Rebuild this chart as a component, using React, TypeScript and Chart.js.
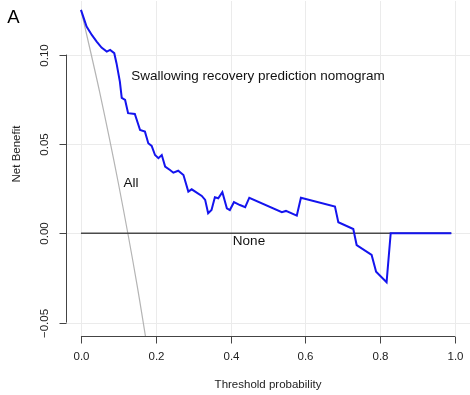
import React, { useEffect, useRef } from 'react';
import { Chart, registerables } from 'chart.js';

Chart.register(...registerables);

// Decision curve: nomogram
const thresholds = [
  0.0, 0.015, 0.029, 0.042, 0.055, 0.069, 0.078, 0.089, 0.095, 0.104,
  0.109, 0.118, 0.126, 0.144, 0.158, 0.171, 0.18, 0.189, 0.198, 0.207,
  0.216, 0.225, 0.238, 0.247, 0.26, 0.274, 0.287, 0.296, 0.323, 0.332,
  0.34, 0.349, 0.358, 0.367, 0.378, 0.39, 0.398, 0.409, 0.425, 0.439,
  0.45, 0.537, 0.548, 0.577, 0.588, 0.679, 0.688, 0.728, 0.737, 0.777,
  0.789, 0.817, 0.828, 0.99,
];
const nomogramNB = [
  0.125, 0.1157, 0.111, 0.1073, 0.1039, 0.1017, 0.1026, 0.1008, 0.0952, 0.0849,
  0.0758, 0.0746, 0.0672, 0.0668, 0.0578, 0.0569, 0.0504, 0.0489, 0.0438, 0.042,
  0.0438, 0.0373, 0.0354, 0.0339, 0.035, 0.0326, 0.0233, 0.0246, 0.0209, 0.0187,
  0.0112, 0.013, 0.0202, 0.0196, 0.023, 0.014, 0.013, 0.0174, 0.0158, 0.0146,
  0.0199, 0.0118, 0.0125, 0.0099, 0.0199, 0.0149, 0.0062, 0.0024, -0.0066, -0.0121,
  -0.0215, -0.0274, 0.0, 0.0,
];
// Treat all
const allThresholds = [0, 0.05, 0.1, 0.15, 0.2];
const allNB = [0.125, 0.079, 0.028, -0.029, -0.094];
// Treat none
const noneThresholds = [0, 0.99];
const noneNB = [0, 0];

const xTicks = [0, 0.2, 0.4, 0.6, 0.8, 1.0];
const xTickLabels = ['0.0', '0.2', '0.4', '0.6', '0.8', '1.0'];
const yTicks = [-0.05, 0, 0.05, 0.1];
const yTickLabels = ['\u22120.05', '0.00', '0.05', '0.10'];

const panelLabel = 'A';
const xTitle = 'Threshold probability';
const yTitle = 'Net Benefit';
const nomogramLabel = 'Swallowing recovery prediction nomogram';
const allLabel = 'All';
const noneLabel = 'None';

const FONT = "'Liberation Sans', Arial, Helvetica, sans-serif";

const toPoints = (xs: number[], ys: number[]) => xs.map((v, i) => ({ x: v, y: ys[i] }));

const decor = {
  id: 'decor',
  beforeDatasetsDraw(chart: any) {
    const { ctx, chartArea: a, scales } = chart;
    const x = scales.x;
    const y = scales.y;
    ctx.save();
    ctx.strokeStyle = '#ebebeb';
    ctx.lineWidth = 1;
    xTicks.forEach((v) => {
      const p = Math.round(x.getPixelForValue(v)) + 0.5;
      ctx.beginPath();
      ctx.moveTo(p, a.top);
      ctx.lineTo(p, a.bottom);
      ctx.stroke();
    });
    yTicks.forEach((v) => {
      const p = Math.round(y.getPixelForValue(v)) + 0.5;
      ctx.beginPath();
      ctx.moveTo(a.left, p);
      ctx.lineTo(a.right, p);
      ctx.stroke();
    });
    ctx.restore();
  },
  afterDraw(chart: any) {
    const { ctx, chartArea: a, scales } = chart;
    const x = scales.x;
    const y = scales.y;
    ctx.save();
    ctx.strokeStyle = '#444';
    ctx.lineWidth = 1;
    // x axis
    const yb = Math.round(a.bottom) + 0.5;
    const xs0 = x.getPixelForValue(xTicks[0]);
    const xs1 = x.getPixelForValue(xTicks[xTicks.length - 1]);
    ctx.beginPath();
    ctx.moveTo(xs0, yb);
    ctx.lineTo(xs1, yb);
    ctx.stroke();
    ctx.fillStyle = '#222';
    ctx.font = `11.5px ${FONT}`;
    ctx.textAlign = 'center';
    ctx.textBaseline = 'middle';
    xTicks.forEach((v, i) => {
      const p = Math.round(x.getPixelForValue(v)) + 0.5;
      ctx.beginPath();
      ctx.moveTo(p, yb);
      ctx.lineTo(p, yb + 7);
      ctx.stroke();
      ctx.fillText(xTickLabels[i], p, a.bottom + 21);
    });
    // y axis
    const xl = Math.round(a.left) + 0.5;
    const ys0 = y.getPixelForValue(yTicks[0]);
    const ys1 = y.getPixelForValue(yTicks[yTicks.length - 1]);
    ctx.beginPath();
    ctx.moveTo(xl, ys0);
    ctx.lineTo(xl, ys1);
    ctx.stroke();
    yTicks.forEach((v, i) => {
      const p = Math.round(y.getPixelForValue(v)) + 0.5;
      ctx.beginPath();
      ctx.moveTo(xl, p);
      ctx.lineTo(xl - 7, p);
      ctx.stroke();
      ctx.save();
      ctx.translate(a.left - 21, p);
      ctx.rotate(-Math.PI / 2);
      ctx.fillText(yTickLabels[i], 0, 0);
      ctx.restore();
    });
    // titles
    ctx.font = `11.5px ${FONT}`;
    ctx.fillText(xTitle, (a.left + a.right) / 2, a.bottom + 49);
    ctx.save();
    ctx.translate(17, 154);
    ctx.rotate(-Math.PI / 2);
    ctx.fillText(yTitle, 0, 0);
    ctx.restore();
    // panel label
    ctx.fillStyle = '#000';
    ctx.font = `18.5px ${FONT}`;
    ctx.fillText(panelLabel, 13.5, 18);
    // curve labels
    ctx.fillStyle = '#111';
    ctx.font = `13.5px ${FONT}`;
    ctx.fillText(nomogramLabel, 258, 76);
    ctx.fillText(allLabel, 131, 183);
    ctx.fillText(noneLabel, 249, 241);
    ctx.restore();
  },
};

export default function App() {
  const ref = useRef<HTMLCanvasElement | null>(null);
  useEffect(() => {
    if (!ref.current) return;
    const chart = new Chart(ref.current, {
      type: 'line',
      data: {
        datasets: [
          {
            label: 'Nomogram',
            data: toPoints(thresholds, nomogramNB),
            borderColor: '#1414ee',
            borderWidth: 2,
            pointRadius: 0,
            tension: 0,
            fill: false,
          },
          {
            label: 'None',
            data: toPoints(noneThresholds, noneNB),
            borderColor: '#4a4a4a',
            borderWidth: 1.5,
            pointRadius: 0,
            fill: false,
          },
          {
            label: 'All',
            data: toPoints(allThresholds, allNB),
            borderColor: '#b4b4b4',
            borderWidth: 1.2,
            pointRadius: 0,
            tension: 0.4,
            cubicInterpolationMode: 'monotone',
            fill: false,
          },
        ],
      },
      options: {
        animation: false,
        responsive: false,
        maintainAspectRatio: false,
        devicePixelRatio: 1,
        layout: { padding: { left: 66, right: 0, top: 1, bottom: 59 } },
        plugins: { legend: { display: false }, tooltip: { enabled: false } },
        scales: {
          x: { type: 'linear', min: -0.04, max: 1.04, display: false },
          y: { type: 'linear', min: -0.0575, max: 0.13, display: false },
        },
      },
      plugins: [decor],
    } as any);
    return () => chart.destroy();
  }, []);
  return (
    <div style={{ position: 'fixed', left: 0, top: 0, width: 470, height: 395, background: '#fff' }}>
      <canvas ref={ref} width={470} height={395} style={{ width: 470, height: 395, display: 'block' }} />
    </div>
  );
}
